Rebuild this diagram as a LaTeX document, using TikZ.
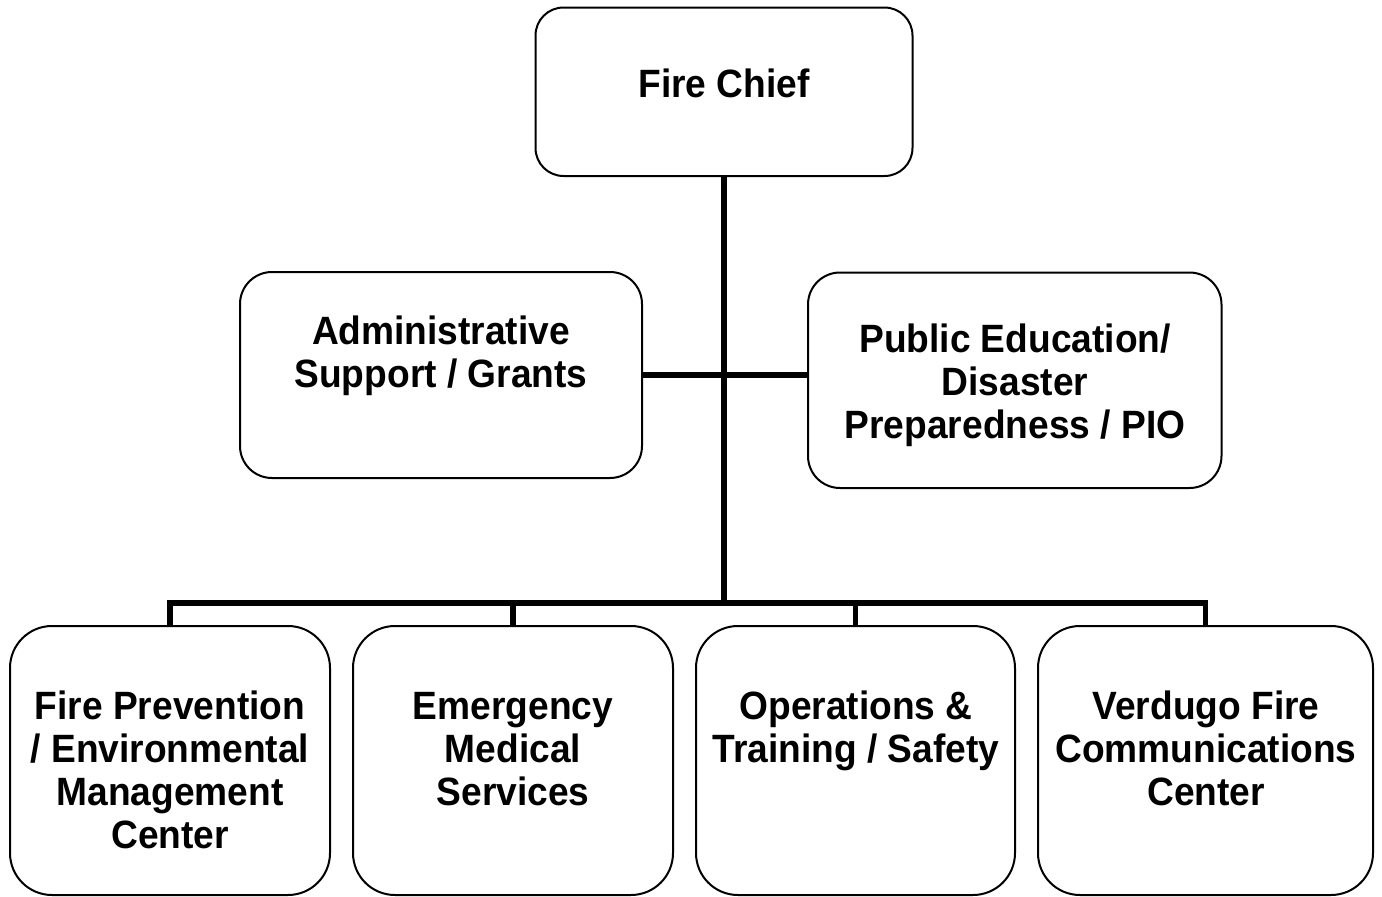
\documentclass[tikz,border=0pt]{standalone}
\usepackage{fontspec}
\setmainfont{Liberation Sans}[FakeStretch=0.94]
\newcommand\mylines[1]{\begin{tabular}[t]{@{}c@{}}#1\end{tabular}}
\begin{document}
\begin{tikzpicture}[x=1pt,y=-1pt,
  box/.style={draw=black,line width=2pt,rounded corners=#1,inner sep=0pt,fill=white},
  lbl/.style={anchor=base,inner sep=0pt,font=\bfseries\fontsize{39.5}{43}\selectfont},
  conn/.style={draw=black,line width=5.5pt,line join=miter,line cap=butt}]
\useasboundingbox (0,0) rectangle (1382,897);
% connectors first
\coordinate (j) at (724,603);
% boxes
\node[box=28pt,minimum width=377pt,minimum height=168.5pt] (chief) at (724,91.75) {};
\node[box=32pt,minimum width=402pt,minimum height=206pt] (admin) at (441,375) {};
\node[box=32pt,minimum width=413.5pt,minimum height=215.5pt] (pub) at (1014.75,380.25) {};
\node[box=42pt,minimum width=320pt,minimum height=269pt] (b1) at (170,760.5) {};
\node[box=42pt,minimum width=320pt,minimum height=269pt] (b2) at (513,760.5) {};
\node[box=42pt,minimum width=319pt,minimum height=269pt] (b3) at (855.5,760.5) {};
\node[box=42pt,minimum width=335pt,minimum height=269pt] (b4) at (1205.5,760.5) {};
% connectors
\draw[conn] (chief.south) -- (j);
\draw[conn] (admin.east) -- (admin.east -| pub.west);
\draw[conn] (b1.north) -- (b1.north |- j) -- (b4.north |- j) -- (b4.north);
\draw[conn] (b2.north) -- (b2.north |- j);
\draw[conn] (b3.north) -- (b3.north |- j);
% labels
\node[lbl] (tchief) at (724,97) {\mylines{Fire Chief}};
\node[lbl] (tadmin) at (441,344) {\mylines{Administrative\\Support / Grants}};
\node[lbl] (tpub) at (1015,352) {\mylines{Public Education/\\Disaster\\Preparedness / PIO}};
\node[lbl] (tb1) at (170,719) {\mylines{Fire Prevention\\/ Environmental\\Management\\Center}};
\node[lbl] (tb2) at (513,719) {\mylines{Emergency\\Medical\\Services}};
\node[lbl] (tb3) at (856,719) {\mylines{Operations \&\\Training / Safety}};
\node[lbl] (tb4) at (1206,719) {\mylines{Verdugo Fire\\Communications\\Center}};
\end{tikzpicture}
\end{document}
